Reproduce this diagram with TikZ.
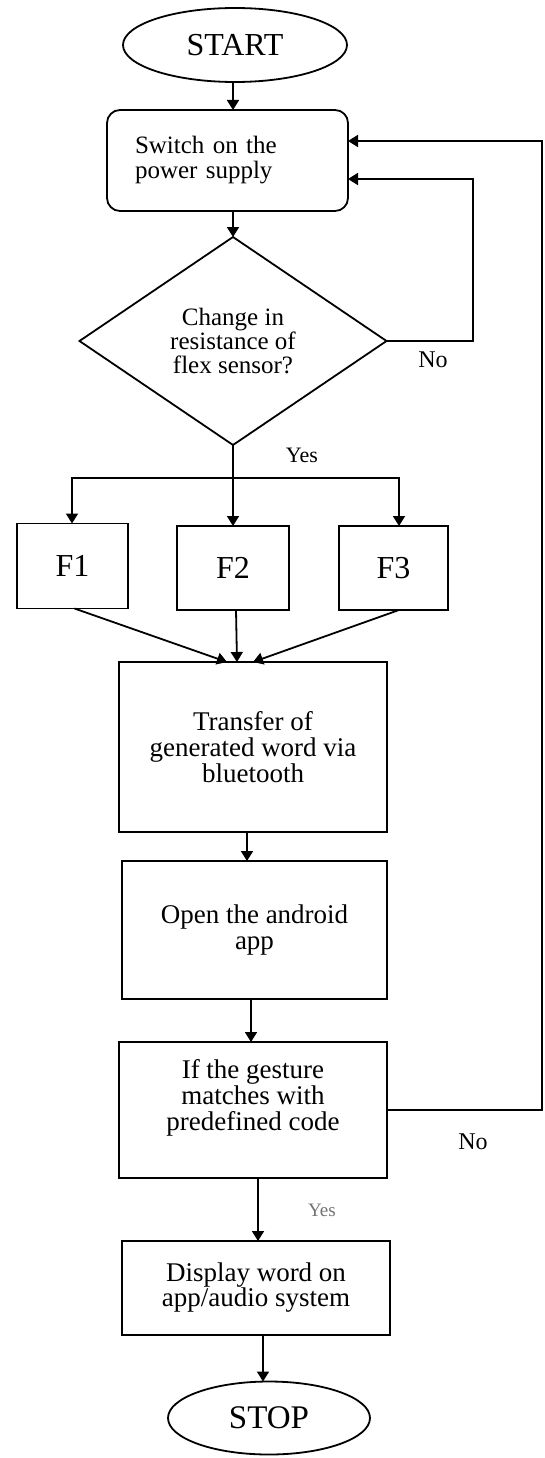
\documentclass[tikz,border=0pt]{standalone}
\usepackage{fontspec}
\setmainfont{Liberation Serif}
\usetikzlibrary{shapes.geometric,arrows.meta}
\begin{document}
\begin{tikzpicture}[x=1pt,y=-1pt,
  every node/.style={inner sep=0pt, outer sep=0pt},
  box/.style={draw, line width=1.8pt, align=center, font=\fontsize{27}{26}\selectfont},
  fbox/.style={draw, line width=1.8pt, font=\fontsize{32}{32}\selectfont},
  term/.style={draw, ellipse, line width=1.8pt},
  arr/.style={line width=1.8pt, -{Triangle[length=10pt,width=12pt]}},
  lbl/.style={font=\fontsize{24}{24}\selectfont}]
\useasboundingbox (0,0) rectangle (544,1458);
\fill[white] (0,0) rectangle (544,1458);
% nodes
\node[term, minimum width=224pt, minimum height=74pt, font=\fontsize{32}{32}\selectfont] (start) at (235,45) {START};
\node[draw, rounded corners=13pt, line width=1.8pt, minimum width=241pt, minimum height=101pt,
      text width=185pt, inner xsep=28pt, align=left, font=\fontsize{25}{25}\selectfont] (sw) at (227.5,160.5) {Switch on the\\power supply};
\node[draw, diamond, line width=1.8pt, minimum width=307pt, minimum height=208pt, align=center,
      font=\fontsize{25}{24}\selectfont] (dec) at (233,341) {Change in\\resistance of\\flex sensor?};
\node[fbox, minimum width=111pt, minimum height=85pt] (f1) at (72.5,566) {F1};
\node[fbox, minimum width=112pt, minimum height=84pt] (f2) at (233,568) {F2};
\node[fbox, minimum width=109pt, minimum height=84pt] (f3) at (393.5,568) {F3};
\node[box, minimum width=268pt, minimum height=170pt] (tr) at (253,747) {Transfer of\\generated word via\\bluetooth};
\node[box, minimum width=265pt, minimum height=138pt] (op) at (254.5,930) {Open the android\\app};
\node[box, minimum width=268pt, minimum height=136pt] (ifb) at (253,1110) {If the gesture\\matches with\\predefined code\\[4pt]\mbox{}};
\node[box, minimum width=268pt, minimum height=94pt, font=\fontsize{27}{25}\selectfont] (disp) at (256,1288) {Display word on\\app/audio system};
\node[term, minimum width=202pt, minimum height=73pt, font=\fontsize{33}{33}\selectfont] (stop) at (269,1418) {STOP};
% labels
\node[lbl] (no1) at (433,360) {No};
\node[font=\fontsize{22}{22}\selectfont] (yes1) at (302,455) {Yes};
\node[lbl] (no2) at (473,1142) {No};
\node[font=\fontsize{19}{19}\selectfont, text=black!55] (yes2) at (322,1210) {Yes};
% coordinates
\coordinate (split) at (233,478);
\coordinate (nocorner) at (473,179);
\coordinate (rtop) at (542,141);
% connectors
\draw[arr] ([xshift=-2pt]start.south) -- ([xshift=5.5pt]sw.north);
\draw[arr] ([xshift=5.5pt]sw.south) -- (dec.north);
\draw[arr] (dec.south) -- (f2.north);
\draw[arr] (split) -| ([xshift=-0.5pt]f1.north);
\draw[arr] (split) -| ([xshift=5.5pt]f3.north);
\draw[arr] (dec.east) -| (nocorner) -- ([yshift=-18.5pt]sw.east);
\draw[arr] (ifb.east) -| (rtop) -- ([yshift=19.5pt]sw.east);
\draw[arr] ([xshift=2pt]f1.south) -- ([xshift=-26pt]tr.north);
\draw[arr] ([xshift=3pt]f2.south) -- ([xshift=-16pt]tr.north);
\draw[arr] ([xshift=5.5pt]f3.south) -- (tr.north);
\draw[arr] ([xshift=-6pt]tr.south) -- ([xshift=-7.5pt]op.north);
\draw[arr] ([xshift=-3.5pt]op.south) -- ([xshift=-2pt]ifb.north);
\draw[arr] ([xshift=5pt]ifb.south) -- ([xshift=2pt]disp.north);
\draw[arr] ([xshift=7pt]disp.south) -- ([xshift=-6pt]stop.north);
\end{tikzpicture}
\end{document}
